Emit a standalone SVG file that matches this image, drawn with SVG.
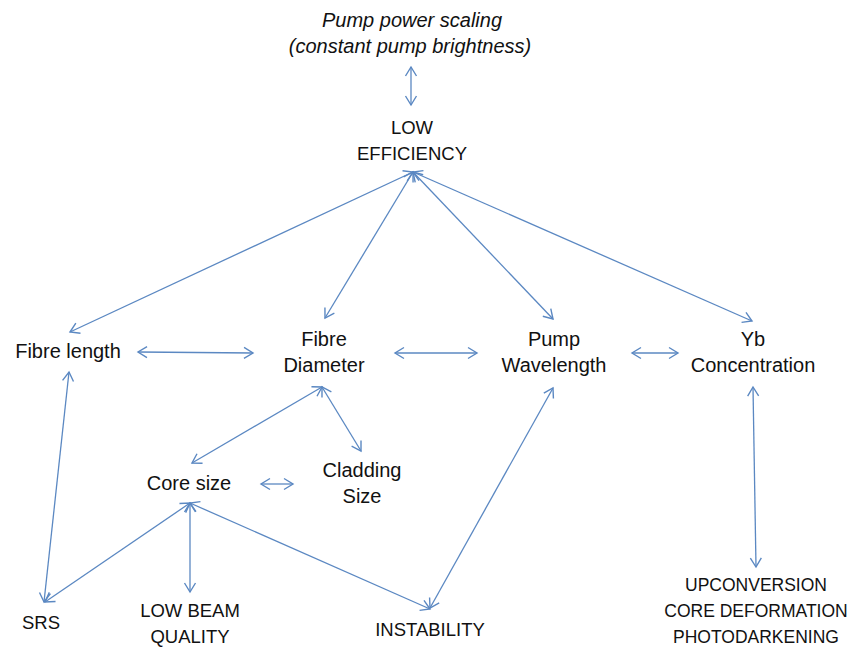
<svg xmlns="http://www.w3.org/2000/svg" width="854" height="647" viewBox="0 0 854 647">
<style>
text{font-family:"Liberation Sans",Arial,sans-serif;font-size:20px;fill:#111;text-anchor:middle}
.it{font-style:italic}
.cap text{font-size:18.5px}
.cap2 text{font-size:17.5px}
.c line{stroke:#5b88c2;stroke-width:1.3;fill:none;marker-start:url(#ah);marker-end:url(#ah)}
</style>
<defs>
<marker id="ah" markerUnits="userSpaceOnUse" markerWidth="14" markerHeight="14" viewBox="0 0 14 14" refX="12" refY="7" orient="auto-start-reverse">
<path d="M3,1.5 L12,7 L3,12.5" fill="none" stroke="#5b88c2" stroke-width="1.4"/>
</marker>
</defs>
<rect width="854" height="647" fill="#fff"/>
<g id="n-pump-power">
<text class="it" x="412" y="27">Pump power scaling</text>
<text class="it" x="410" y="53">(constant pump brightness)</text>
</g>
<g id="n-low-eff" class="cap">
<text x="412" y="134">LOW</text>
<text x="412" y="160">EFFICIENCY</text>
</g>
<g id="n-fibre-length"><text x="68" y="358">Fibre length</text></g>
<g id="n-fibre-diam">
<text x="324" y="346">Fibre</text>
<text x="324" y="372">Diameter</text>
</g>
<g id="n-pump-wl">
<text x="554" y="346">Pump</text>
<text x="554" y="372">Wavelength</text>
</g>
<g id="n-yb">
<text x="753" y="346">Yb</text>
<text x="753" y="372">Concentration</text>
</g>
<g id="n-core"><text x="189" y="490">Core size</text></g>
<g id="n-cladding">
<text x="362" y="477">Cladding</text>
<text x="362" y="503">Size</text>
</g>
<g id="n-srs" class="cap"><text x="41" y="629">SRS</text></g>
<g id="n-beam" class="cap">
<text x="190" y="617">LOW BEAM</text>
<text x="190" y="643">QUALITY</text>
</g>
<g id="n-instab" class="cap"><text x="430" y="636">INSTABILITY</text></g>
<g id="n-upconv" class="cap2">
<text x="756" y="591">UPCONVERSION</text>
<text x="756" y="617">CORE DEFORMATION</text>
<text x="756" y="643">PHOTODARKENING</text>
</g>
<g id="connectors" class="c">
<line x1="411" y1="67" x2="411" y2="105"/>
<line x1="413" y1="172" x2="70" y2="332"/>
<line x1="413" y1="172" x2="325" y2="318"/>
<line x1="413" y1="172" x2="553" y2="319"/>
<line x1="413" y1="172" x2="752" y2="321"/>
<line x1="138" y1="352" x2="253" y2="353"/>
<line x1="395" y1="353" x2="477" y2="353"/>
<line x1="632" y1="353" x2="678" y2="353"/>
<line x1="322" y1="387" x2="192" y2="463"/>
<line x1="322" y1="387" x2="361" y2="451"/>
<line x1="261" y1="484" x2="293" y2="484"/>
<line x1="69" y1="372" x2="44" y2="602"/>
<line x1="190" y1="503" x2="45" y2="602"/>
<line x1="190" y1="503" x2="190" y2="592"/>
<line x1="190" y1="503" x2="430" y2="609"/>
<line x1="553" y1="388" x2="430" y2="608"/>
<line x1="753" y1="387" x2="756" y2="567"/>
</g>
</svg>
